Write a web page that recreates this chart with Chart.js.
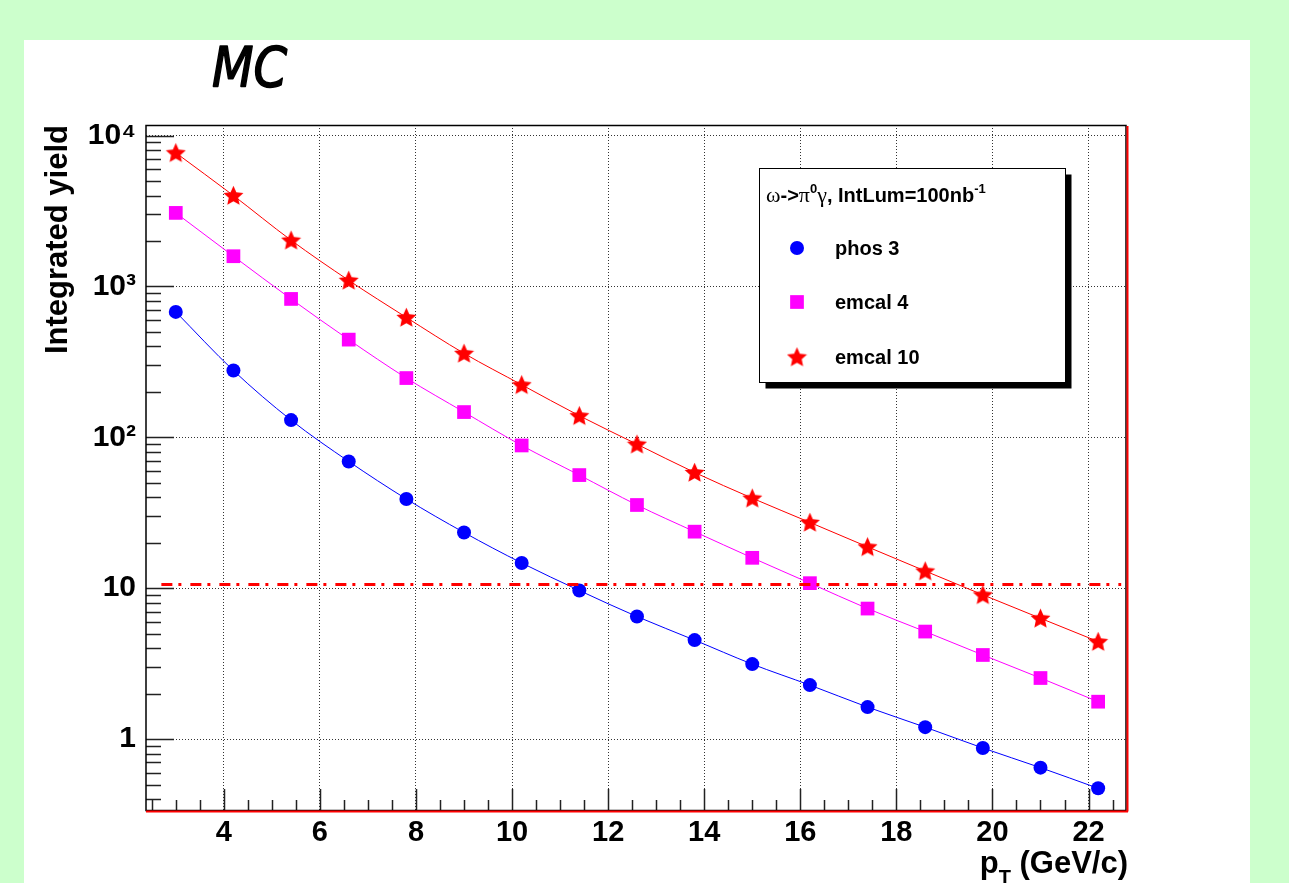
<!DOCTYPE html>
<html>
<head>
<meta charset="utf-8">
<script src="https://cdn.jsdelivr.net/npm/chart.js@4.4.1/dist/chart.umd.min.js"></script>
<style>
  html, body { margin: 0; padding: 0; background: #ccffcc; overflow: hidden; }
  canvas { display: block; }
</style>
</head>
<body>
<canvas id="yield" width="1289" height="883"></canvas>
<script>
// pT bin centres (GeV/c)
const ptBins = [3.0, 4.2, 5.4, 6.6, 7.8, 9.0, 10.2, 11.4, 12.6, 13.8, 15.0, 16.2, 17.4, 18.6, 19.8, 21.0, 22.2];

// integrated yields per detector configuration
const phos3   = [678, 277, 130, 69.2, 39.0, 23.4, 14.7, 9.66, 6.49, 4.53, 3.14, 2.28, 1.63, 1.20, 0.873, 0.647, 0.472];
const emcal4  = [3070, 1585, 826, 444, 247, 147, 88.3, 56.2, 35.6, 23.7, 15.9, 10.8, 7.33, 5.16, 3.61, 2.54, 1.77];
const emcal10 = [7680, 4000, 2023, 1097, 623, 360, 223, 139, 90.0, 58.5, 39.5, 27.3, 18.8, 13.0, 9.04, 6.32, 4.43];

const seriesNames = ['phos 3', 'emcal 4', 'emcal 10'];

// reference level drawn as a dash-dotted line
const thresholdLevel = 10.6;
const thresholdRange = [2.7, 22.68];

// axes
const xRange = [2.38, 22.78];
const yRange = [0.339, 11740];
const xTicks = [4, 6, 8, 10, 12, 14, 16, 18, 20, 22];
const yTicks = [1, 10, 100, 1000, 10000];
const yTickLabels = ['1', '10', '10\u00B2', '10\u00B3', '10\u2074'];

const SANS = '"Liberation Sans", Arial, Helvetica, sans-serif';
const SERIF = '"Liberation Serif", "Times New Roman", serif';

// filled five-pointed star marker
function starMarker(size, color) {
  const c = document.createElement('canvas');
  c.width = c.height = size;
  const g = c.getContext('2d');
  const R = size / 2, r = R * 0.47;
  g.beginPath();
  for (let i = 0; i < 10; i++) {
    const a = -Math.PI / 2 + i * Math.PI / 5;
    const rad = (i % 2) ? r : R;
    g.lineTo(R + rad * Math.cos(a), R + 0.8 + rad * Math.sin(a));
  }
  g.closePath();
  g.fillStyle = color;
  g.fill();
  return c;
}
const redStar = starMarker(21, '#ff0000');

const toPoints = (ys) => ptBins.map((x, i) => ({ x, y: ys[i] }));

// page background and white pad
const padPlugin = {
  id: 'pad',
  beforeDraw(chart) {
    const ctx = chart.ctx;
    ctx.save();
    ctx.fillStyle = '#ccffcc';
    ctx.fillRect(0, 0, chart.width, chart.height);
    ctx.fillStyle = '#ffffff';
    ctx.fillRect(24, 40, 1226, chart.height - 40);
    ctx.restore();
  }
};

// tick marks drawn inside the frame
const innerTicksPlugin = {
  id: 'innerTicks',
  beforeDatasetsDraw(chart) {
    const { ctx, chartArea: a, scales: { x, y } } = chart;
    ctx.save();
    ctx.strokeStyle = '#222';
    ctx.lineWidth = 1.5;
    ctx.beginPath();
    for (let v = Math.ceil(xRange[0] * 2) / 2; v <= xRange[1]; v += 0.5) {
      const px = Math.round(x.getPixelForValue(v)) + 0.5;
      const len = (Math.abs(v % 2) < 1e-9) ? 21 : 10;
      ctx.moveTo(px, a.bottom);
      ctx.lineTo(px, a.bottom - len);
    }
    for (let e = -1; e <= 4; e++) {
      const dec = Math.pow(10, e);
      for (let m = 1; m <= 9; m++) {
        const v = m * dec;
        if (v < yRange[0] || v > yRange[1]) continue;
        const py = Math.round(y.getPixelForValue(v)) + 0.5;
        const len = m === 1 ? 28 : 15;
        ctx.moveTo(a.left, py);
        ctx.lineTo(a.left + len, py);
      }
    }
    ctx.stroke();
    ctx.restore();
  }
};

function marker(ctx, ds, px, py) {
  const H = Chart.helpers;
  ctx.fillStyle = ds.backgroundColor;
  ctx.strokeStyle = ds.borderColor;
  if (H && H.drawPoint) {
    H.drawPoint(ctx, { pointStyle: ds.pointStyle, radius: ds.pointRadius, rotation: 0, borderWidth: 0 }, px, py);
  } else if (ds.pointStyle instanceof HTMLCanvasElement) {
    ctx.drawImage(ds.pointStyle, px - ds.pointStyle.width / 2, py - ds.pointStyle.height / 2);
  } else {
    ctx.beginPath();
    ctx.arc(px, py, ds.pointRadius, 0, Math.PI * 2);
    ctx.fill();
  }
}

// frame, legend box, title text and x axis title
const decorPlugin = {
  id: 'decor',
  afterDatasetsDraw(chart) {
    const { ctx, chartArea: a } = chart;
    ctx.save();

    // frame
    ctx.strokeStyle = '#000';
    ctx.lineWidth = 1.5;
    ctx.strokeRect(a.left, a.top + 0.5, a.right - a.left, a.bottom - a.top);
    ctx.strokeStyle = '#ff0000';
    ctx.lineWidth = 2;
    ctx.beginPath();
    ctx.moveTo(a.left, a.bottom + 1.5);
    ctx.lineTo(a.right + 2, a.bottom + 1.5);
    ctx.moveTo(a.right + 1.5, a.top + 1);
    ctx.lineTo(a.right + 1.5, a.bottom + 1.5);
    ctx.stroke();

    // legend box with drop shadow
    const bx = 759.5, by = 168.5, bw = 306, bh = 214;
    ctx.fillStyle = '#000';
    ctx.fillRect(bx + 6, by + 6, bw, bh);
    ctx.fillStyle = '#fff';
    ctx.fillRect(bx, by, bw, bh);
    ctx.strokeStyle = '#000';
    ctx.lineWidth = 1;
    ctx.strokeRect(bx, by, bw, bh);

    // legend header
    let tx = 766;
    const base = 202;
    ctx.fillStyle = '#000';
    ctx.textBaseline = 'alphabetic';
    ctx.textAlign = 'left';
    const put = (txt, font, dy) => {
      ctx.font = font;
      ctx.fillText(txt, tx, base + (dy || 0));
      tx += ctx.measureText(txt).width;
    };
    put('\u03C9', '22px ' + SERIF);
    put('->', 'bold 20px ' + SANS);
    put('\u03C0', '22px ' + SERIF);
    put('0', 'bold 13px ' + SANS, -9);
    put('\u03B3', '22px ' + SERIF);
    put(', IntLum=100nb', 'bold 20px ' + SANS);
    put('-1', 'bold 13px ' + SANS, -9);

    // legend entries
    const rowsY = [248, 302, 357];
    ctx.font = 'bold 20px ' + SANS;
    for (let i = 0; i < 3; i++) {
      const ds = chart.data.datasets[i];
      marker(ctx, ds, 797, rowsY[i]);
      ctx.fillStyle = '#000';
      ctx.fillText(ds.label, 835, rowsY[i] + 7);
    }

    // MC label
    ctx.save();
    ctx.translate(212, 86);
    ctx.scale(0.86, 1);
    ctx.font = 'italic 56px "DejaVu Sans", sans-serif';
    ctx.fillStyle = '#000';
    ctx.strokeStyle = '#000';
    ctx.lineWidth = 1.6;
    ctx.lineJoin = 'round';
    ctx.fillText('MC', 0, 0);
    ctx.strokeText('MC', 0, 0);
    ctx.restore();

    // x axis title: p_T (GeV/c), right aligned
    const fBig = 'bold 31px ' + SANS, fSub = 'bold 20px ' + SANS;
    ctx.font = fBig;
    const wRest = ctx.measureText(' (GeV/c)').width;
    const wP = ctx.measureText('p').width;
    ctx.font = fSub;
    const wT = ctx.measureText('T').width;
    let xs = 1128 - wRest - wT - wP;
    const xb = 873;
    ctx.font = fBig;
    ctx.fillText('p', xs, xb);
    xs += wP;
    ctx.font = fSub;
    ctx.fillText('T', xs, xb + 11);
    xs += wT;
    ctx.font = fBig;
    ctx.fillText(' (GeV/c)', xs, xb);

    ctx.restore();
  }
};

const tickFont = (size) => ({ family: SANS, size, weight: 'bold' });

new Chart(document.getElementById('yield'), {
  type: 'line',
  data: {
    datasets: [
      {
        label: seriesNames[0], data: toPoints(phos3),
        borderColor: '#0000ff', backgroundColor: '#0000ff',
        pointStyle: 'circle', pointRadius: 7, pointBorderWidth: 0,
        borderWidth: 1, cubicInterpolationMode: 'monotone'
      },
      {
        label: seriesNames[1], data: toPoints(emcal4),
        borderColor: '#ff00ff', backgroundColor: '#ff00ff',
        pointStyle: 'rect', pointRadius: 9.7, pointBorderWidth: 0,
        borderWidth: 1, cubicInterpolationMode: 'monotone'
      },
      {
        label: seriesNames[2], data: toPoints(emcal10),
        borderColor: '#ff0000', backgroundColor: '#ff0000',
        pointStyle: redStar, pointRadius: 10, pointBorderWidth: 0,
        borderWidth: 1, cubicInterpolationMode: 'monotone'
      },
      {
        label: 'level', data: thresholdRange.map(x => ({ x, y: thresholdLevel })),
        borderColor: '#ff0000', backgroundColor: '#ff0000',
        borderWidth: 3, borderDash: [11, 6, 3, 9], pointRadius: 0, order: -1
      }
    ]
  },
  options: {
    responsive: false,
    animation: false,
    devicePixelRatio: 1,
    events: [],
    layout: { padding: { top: 125, right: 163, left: 0, bottom: 0 } },
    plugins: { legend: { display: false }, tooltip: { enabled: false }, title: { display: false } },
    scales: {
      x: {
        type: 'linear', min: xRange[0], max: xRange[1], bounds: 'data',
        afterFit(s) { s.height = 73; },
        afterBuildTicks(s) {
          s.ticks = xTicks.map(v => ({ value: v }));
          s.min = xRange[0]; s.max = xRange[1];
        },
        grid: { color: '#333', lineWidth: 1, drawTicks: false },
        border: { display: false, dash: [1, 2] },
        ticks: { padding: 6, color: '#000', font: tickFont(29), maxRotation: 0, autoSkip: false }
      },
      y: {
        type: 'logarithmic', min: yRange[0], max: yRange[1], bounds: 'data',
        afterFit(s) { s.width = 146; },
        afterBuildTicks(s) {
          s.ticks = yTicks.map(v => ({ value: v }));
          s.min = yRange[0]; s.max = yRange[1];
        },
        grid: { color: '#333', lineWidth: 1, drawTicks: false },
        border: { display: false, dash: [1, 2] },
        ticks: {
          padding: 10, color: '#000', font: tickFont(30), autoSkip: false,
          callback: (v, i) => yTickLabels[i]
        },
        title: {
          display: true, text: 'Integrated yield', align: 'end', color: '#000',
          font: tickFont(31), padding: { top: 40, bottom: 0 }
        }
      }
    }
  },
  plugins: [padPlugin, innerTicksPlugin, decorPlugin]
});
</script>
</body>
</html>
